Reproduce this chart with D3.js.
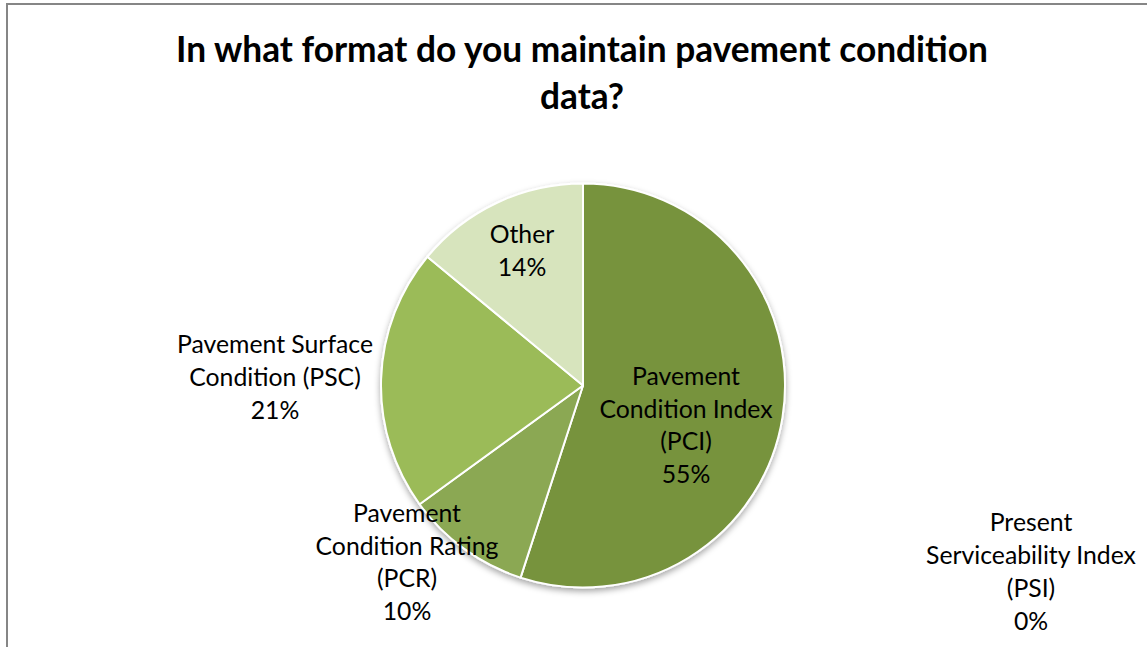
<!DOCTYPE html>
<html>
<head>
<meta charset="utf-8">
<script src="https://cdn.jsdelivr.net/npm/d3@7"></script>
<style>
  html, body { margin: 0; padding: 0; background: #fff; }
  svg { display: block; }
</style>
</head>
<body>
<svg id="chart" width="1147" height="647"></svg>
<script>
// ---- data ----
const titleLines = ["In what format do you maintain pavement condition", "data?"];
const categories = ["Pavement Condition Index (PCI)", "Present Serviceability Index (PSI)", "Pavement Condition Rating (PCR)", "Pavement Surface Condition (PSC)", "Other"];
const labelLines = [
  ["Pavement", "Condition Index", "(PCI)"],
  ["Present", "Serviceability Index", "(PSI)"],
  ["Pavement", "Condition Rating", "(PCR)"],
  ["Pavement Surface", "Condition (PSC)"],
  ["Other"]
];
const values = [55, 0, 10, 21, 14];
const colors = ["#77933C", "#77933C", "#8BA852", "#9BBB59", "#D7E4BD"];

// ---- layout (positions / styles) ----
const W = 1147, H = 647;
const cx = 583, cy = 385.5, R = 202;
// label block centre offsets from pie centre
const labelOffsets = [[103, 39], [448, 185.5], [-176, 176], [-308, -9], [-61, -135.5]];
const lineH = 32.7;
const fontFamily = "Lato, 'Open Sans', 'DejaVu Sans', sans-serif";

const svg = d3.select("#chart");

// filter for pie drop shadow
const defs = svg.append("defs");
const f = defs.append("filter").attr("id", "shadow").attr("x", "-20%").attr("y", "-20%").attr("width", "140%").attr("height", "140%");
f.append("feDropShadow").attr("dx", 0).attr("dy", 3).attr("stdDeviation", 3).attr("flood-color", "#000").attr("flood-opacity", 0.35);

// frame
svg.append("rect").attr("x", 7).attr("y", 4).attr("width", W + 20).attr("height", H + 20)
  .attr("fill", "#fff").attr("stroke", "#868686").attr("stroke-width", 2);

// title
const title = svg.append("text").attr("text-anchor", "middle")
  .attr("font-family", fontFamily).attr("font-weight", "bold").attr("fill", "#000");
title.selectAll("tspan").data(titleLines).join("tspan")
  .attr("x", 582).attr("y", (d, i) => 62 + i * 47).text(d => d);
// fit title size to target width
(function () {
  let fs = 33;
  title.attr("font-size", fs);
  const w = title.select("tspan").node().getComputedTextLength();
  fs = fs * 812 / w;
  title.attr("font-size", fs);
})();

// pie
const pie = d3.pie().sort(null).value(d => d);
const arcs = pie(values);
const arc = d3.arc().innerRadius(0).outerRadius(R);

const g = svg.append("g").attr("transform", `translate(${cx},${cy})`);
const pieG = g.append("g").attr("filter", "url(#shadow)");
pieG.selectAll("path").data(arcs).join("path")
  .attr("d", arc)
  .attr("fill", (d, i) => colors[i])
  .attr("stroke", "#fff")
  .attr("stroke-width", (d) => d.data > 0 ? 2 : 0)
  .attr("stroke-linejoin", "round");

// labels
const fmt = d3.format(".0%");
const total = d3.sum(values);
const lblG = g.append("g").attr("font-family", fontFamily).attr("fill", "#000").attr("text-anchor", "middle");
const labels = lblG.selectAll("text").data(arcs).join("text")
  .attr("transform", (d, i) => `translate(${labelOffsets[i][0]},${labelOffsets[i][1]})`);
labels.each(function (d, i) {
  const lines = labelLines[i].concat([fmt(d.data / total)]);
  const n = lines.length;
  d3.select(this).selectAll("tspan").data(lines).join("tspan")
    .attr("x", 0)
    .attr("y", (l, j) => (j - (n - 1) / 2) * lineH)
    .attr("dominant-baseline", "central")
    .text(l => l);
});
// fit label font size so "Serviceability Index" is ~210px
(function () {
  let fs = 20;
  lblG.attr("font-size", fs);
  const ref = labels.filter((d, i) => i === 1).selectAll("tspan").filter((l, j) => j === 1).node();
  const w = ref.getComputedTextLength();
  lblG.attr("font-size", fs * 210 / w);
})();
</script>
</body>
</html>
